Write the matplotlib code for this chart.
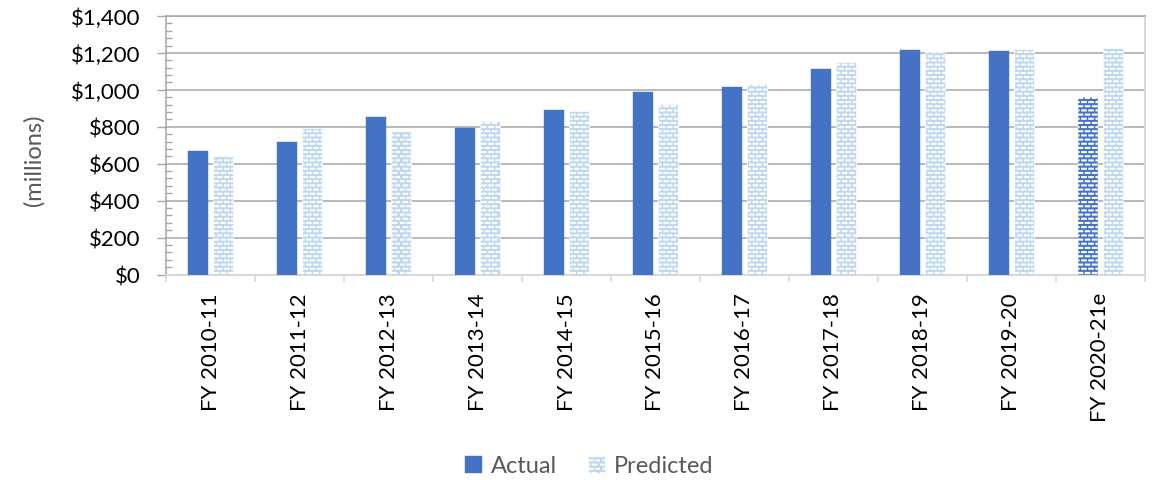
import warnings
import numpy as np
import matplotlib
matplotlib.use("Agg")
import matplotlib.pyplot as plt
import matplotlib.hatch as mhatch
from matplotlib.path import Path
from matplotlib.ticker import MultipleLocator, FixedLocator, FuncFormatter

warnings.filterwarnings("ignore")

years = ["FY 2010-11", "FY 2011-12", "FY 2012-13", "FY 2013-14", "FY 2014-15",
         "FY 2015-16", "FY 2016-17", "FY 2017-18", "FY 2018-19", "FY 2019-20",
         "FY 2020-21e"]
actual = [670, 716, 851, 792, 893, 987, 1014, 1113, 1216, 1212, 960]
predicted = [643, 795, 776, 830, 884, 922, 1032, 1151, 1209, 1222, 1225]
estimated = [False] * 10 + [True]


class BrickDashHatch(mhatch.HatchPatternBase):
    """Staggered rows of short dashes, used with the '=' hatch character."""

    def __init__(self, hatch, density):
        self.num_rows = int(hatch.count("=") * density)
        self.per_row = 14
        self.num_vertices = self.num_rows * self.per_row * 2

    def set_vertices_and_codes(self, vertices, codes):
        step = 1.0 / self.per_row
        k = 0
        for i in range(self.num_rows):
            y = (i + 0.5) / self.num_rows
            shift = 0.5 * step if i % 2 else 0.0
            for j in range(self.per_row):
                x0 = j * step + shift
                vertices[k] = (x0, y)
                vertices[k + 1] = (x0 + 0.5 * step, y)
                codes[k] = Path.MOVETO
                codes[k + 1] = Path.LINETO
                k += 2


mhatch._hatch_types.append(BrickDashHatch)

plt.rcParams["font.family"] = ["Lato", "DejaVu Sans"]
plt.rcParams["hatch.linewidth"] = 1.5
plt.rcParams["hatch.color"] = "white"

BLUE = "#4472C4"
LIGHT = "#BDD7EE"
GRID = "#A6A6A6"
PALE = "#D9D9D9"
GREY_TEXT = "#595959"

fig = plt.figure(figsize=(11.57, 4.81), dpi=100)
ax = fig.add_axes([0.1435, 0.4272, 0.8461, 0.5375])

x = np.arange(len(years))
bw = 0.225
off = 0.14
b1 = ax.bar(x - off, actual, bw, color=BLUE, edgecolor=BLUE, linewidth=0.3,
            label="Actual", zorder=3)
b2 = ax.bar(x + off, predicted, bw, color=LIGHT, edgecolor="white", linewidth=0.5,
            hatch="====", label="Predicted", zorder=3)
for patch, est in zip(b1.patches, estimated):
    if est:
        patch.set_hatch("====")
        patch.set_edgecolor("white")
        patch.set_linewidth(0.3)

ax.set_xlim(-0.5, len(years) - 0.5)
ax.set_ylim(0, 1400)

ax.yaxis.set_major_locator(MultipleLocator(200))
ax.yaxis.set_minor_locator(MultipleLocator(40))
ax.yaxis.set_major_formatter(FuncFormatter(lambda v, p: f"${v:,.0f}"))
ax.grid(axis="y", which="major", color=GRID, linewidth=1.1, zorder=0)
ax.set_axisbelow(True)

ax.set_xticks(x)
ax.set_xticklabels(years, rotation=90)
ax.xaxis.set_minor_locator(FixedLocator(np.arange(-0.5, len(years), 1.0)))

ax.tick_params(axis="y", which="major", length=6.5, width=1.0, color=GRID,
               direction="out", pad=12, labelsize=16, labelcolor="black")
ax.tick_params(axis="y", which="minor", length=4.5, width=1.0, color=GRID,
               direction="in")
ax.tick_params(axis="x", which="major", length=0, pad=12.5, labelsize=16,
               labelcolor="black")
ax.tick_params(axis="x", which="minor", length=5, width=1.2, color=PALE,
               direction="out")

ax.spines["left"].set_color(GRID)
ax.spines["left"].set_linewidth(1.1)
ax.spines["bottom"].set_color(PALE)
ax.spines["bottom"].set_linewidth(1.5)
ax.spines["right"].set_color(PALE)
ax.spines["right"].set_linewidth(1.5)
ax.spines["top"].set_color(GRID)
ax.spines["top"].set_linewidth(1.1)

fig.text(34 / 1157, 1 - 160 / 481, "(millions)", rotation=90, ha="center",
         va="center", fontsize=17, color=GREY_TEXT)

leg = fig.legend(handles=[b1, b2], labels=["Actual", "Predicted"], loc="center",
                 bbox_to_anchor=(0.509, 1 - 467 / 481), ncol=2, frameon=False,
                 fontsize=17, handlelength=0.75, handleheight=0.75,
                 handletextpad=0.35, columnspacing=1.3, borderpad=0)
for t in leg.get_texts():
    t.set_color(GREY_TEXT)

fig.savefig("out.png", dpi=100)
